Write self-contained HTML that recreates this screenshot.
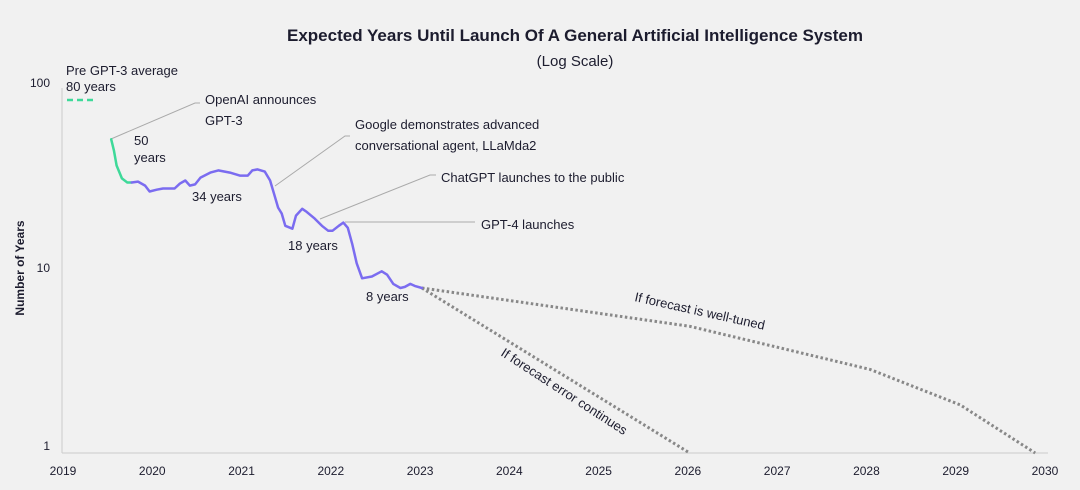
<!DOCTYPE html>
<html><head><meta charset="utf-8">
<style>
html,body{margin:0;padding:0;background:#f1f1f1;}
svg{display:block;font-family:"Liberation Sans",sans-serif;}
</style></head>
<body>
<svg id="chart" width="1080" height="490" viewBox="0 0 1080 490">
<rect width="1080" height="490" fill="#f1f1f1"/>
<text x="575" y="41" text-anchor="middle" font-size="17" font-weight="bold" fill="#1c1c2e">Expected Years Until Launch Of A General Artificial Intelligence System</text>
<text x="575" y="66" text-anchor="middle" font-size="15" fill="#1c1c2e">(Log Scale)</text>
<text transform="translate(24,268) rotate(-90)" text-anchor="middle" font-size="12" font-weight="bold" fill="#1c1c2e">Number of Years</text>
<line x1="62" y1="88" x2="62" y2="453" stroke="#ccc" stroke-width="1"/>
<line x1="62" y1="453" x2="1048" y2="453" stroke="#ccc" stroke-width="1"/>
<g id="ticks"></g>
<g id="annotations" stroke="#aaa" stroke-width="1" fill="none">
<polyline points="111,139 195,103 200,103"/>
<polyline points="275,186 345,136 350,136"/>
<polyline points="320,219 430,175 436,175"/>
<polyline points="345,222 475,222"/>
</g>
<line x1="67" y1="100" x2="97" y2="100" stroke="#3ed999" stroke-width="2.5" stroke-dasharray="6,4"/>
<g id="series"></g>
<g font-size="13" fill="#1c1c2e">
<text x="66" y="75">Pre GPT-3 average</text>
<text x="66" y="91">80 years</text>
<text x="205" y="104">OpenAI announces</text>
<text x="205" y="125">GPT-3</text>
<text x="134" y="145">50</text>
<text x="134" y="162">years</text>
<text x="192" y="201">34 years</text>
<text x="288" y="250">18 years</text>
<text x="366" y="301">8 years</text>
<text x="355" y="129">Google demonstrates advanced</text>
<text x="355" y="150">conversational agent, LLaMda2</text>
<text x="441" y="182">ChatGPT launches to the public</text>
<text x="481" y="229">GPT-4 launches</text>
<text transform="translate(634,301) rotate(12.5)">If forecast is well-tuned</text>
<text transform="translate(500,355) rotate(33)">If forecast error continues</text>
</g>
</svg>
<script>
const xTicks = [2019,2020,2021,2022,2023,2024,2025,2026,2027,2028,2029,2030];
const yTicks = [1,10,100];
const greenYears = [2019.54,2019.57,2019.60,2019.66,2019.72,2019.77];
const greenValues = [49.6,43.2,35.8,30.5,29.0,29.0];
const purpleYears = [2019.77,2019.84,2019.92,2019.97,2020.05,2020.12,2020.25,2020.31,2020.37,2020.42,2020.48,2020.54,2020.65,2020.74,2020.87,2020.98,2021.07,2021.12,2021.18,2021.26,2021.32,2021.37,2021.41,2021.45,2021.49,2021.57,2021.61,2021.68,2021.73,2021.82,2021.90,2021.97,2022.02,2022.09,2022.14,2022.19,2022.24,2022.29,2022.35,2022.46,2022.57,2022.63,2022.70,2022.78,2022.83,2022.89,2022.94,2023.02];
const purpleValues = [29.0,29.3,27.9,25.9,26.5,26.9,26.9,28.6,29.7,27.9,28.3,30.8,32.8,33.7,32.8,31.6,31.6,33.7,34.1,33.2,29.7,24.6,21.2,19.7,16.9,16.3,19.2,20.9,20.1,18.5,16.9,15.9,15.9,16.9,17.6,16.5,13.5,10.6,8.8,9.0,9.6,9.2,8.2,7.8,7.9,8.2,8.0,7.8];
const tunedYears = [2023.02,2026.02,2028.04,2029.05,2029.89];
const tunedValues = [7.8,4.84,2.83,1.82,1.0];
const errorYears = [2023.02,2026.02];
const errorValues = [7.8,1.0];

const NS='http://www.w3.org/2000/svg';
function xs(yr){return 63+(yr-2019)*89.27;}
function ys(v){return 453-185*Math.log10(v);}
function pts(a,b){return a.map((yr,i)=>xs(yr).toFixed(1)+','+ys(b[i]).toFixed(1)).join(' ');}
const ticks=document.getElementById('ticks');
xTicks.forEach(t=>{
  const e=document.createElementNS(NS,'text');
  e.setAttribute('x',xs(t));e.setAttribute('y',475);e.setAttribute('text-anchor','middle');
  e.setAttribute('font-size','12');e.setAttribute('fill','#1c1c2e');e.textContent=t;
  
  
  ticks.appendChild(e);
});
yTicks.forEach(t=>{
  const e=document.createElementNS(NS,'text');
  e.setAttribute('x',50);e.setAttribute('y',t===1?ys(t)-3:ys(t)+4);e.setAttribute('text-anchor','end');
  e.setAttribute('font-size','12');e.setAttribute('fill','#1c1c2e');e.textContent=t;
  
  
  ticks.appendChild(e);
});
const s=document.getElementById('series');
function line(a,b,color,w,dash,name){
  const p=document.createElementNS(NS,'polyline');
  p.setAttribute('points',pts(a,b));p.setAttribute('fill','none');
  p.setAttribute('stroke',color);p.setAttribute('stroke-width',w);
  p.setAttribute('stroke-linejoin','round');
  if(dash){p.setAttribute('stroke-dasharray',dash);}else{p.setAttribute('stroke-linecap','round');}
  
  
  s.appendChild(p);
}
line(tunedYears,tunedValues,'#888',3,'2.5,2.5','forecast-well-tuned-line');
line(errorYears,errorValues,'#888',3,'2.5,2.5','forecast-error-line');
line(greenYears,greenValues,'#3ed999',2.5,null,'pre-gpt3-series-line');
line(purpleYears,purpleValues,'#7b6cf0',2.5,null,'forecast-series-line');
</script>
</body></html>
